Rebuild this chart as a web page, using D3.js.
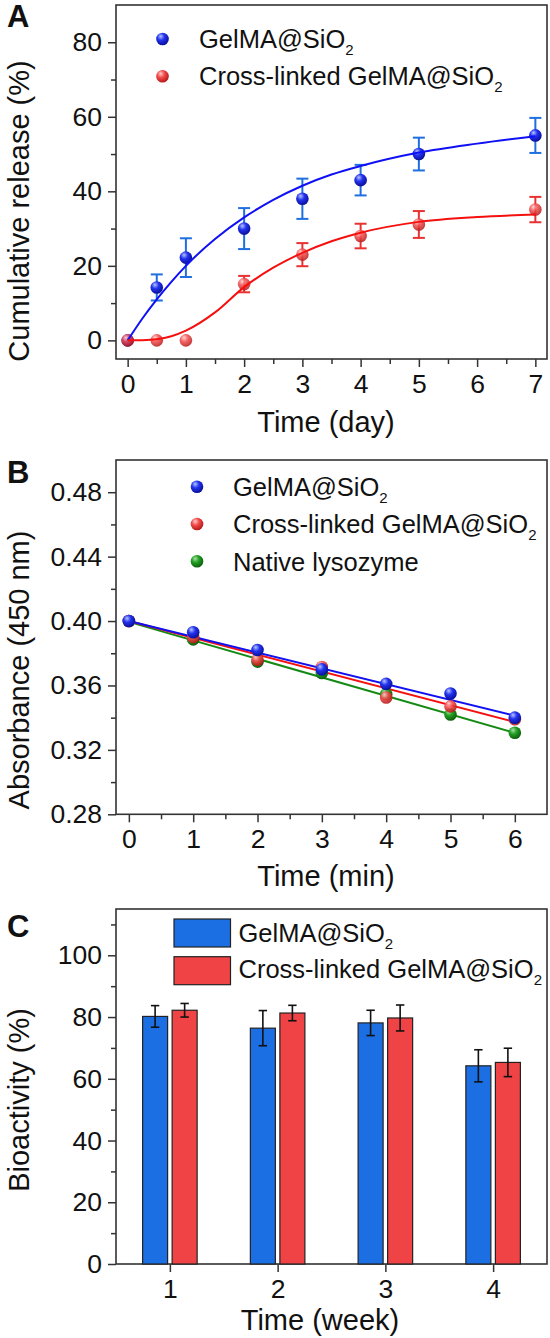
<!DOCTYPE html>
<html>
<head>
<meta charset="utf-8">
<script src="https://cdn.jsdelivr.net/npm/d3@7"></script>
<style>
body { margin: 0; background: #fff; }
text { font-family: "Liberation Sans", Arial, sans-serif; fill: #111; }
</style>
</head>
<body>
<svg id="fig" width="550" height="1338"></svg>
<script>
// panel A - cumulative release
var relDays = [0, 0.5, 1, 2, 3, 4, 5, 7];
var relGel = [0, 14.2, 22.2, 30, 38, 43, 50, 55];
var relGelErr = [0, 3.5, 5.2, 5.5, 5.4, 4.1, 4.4, 4.7];
var relCross = [0, 0, 0, 15.1, 23, 28, 31.1, 35.1];
var relCrossErr = [0, 0, 0, 2.2, 3.1, 3.3, 3.6, 3.4];
var fitDays = [0, 0.25, 0.5, 0.75, 1, 1.5, 2, 2.5, 3, 3.5, 4, 5, 6, 7];
var fitGel = [0, 5.8, 11, 15.7, 20, 27.2, 33, 37.7, 41.5, 44.5, 46.8, 50.4, 52.8, 54.8];
var fitCross = [0, 0.05, 0.3, 1.1, 2.6, 7.5, 14.3, 19.5, 23.5, 26.6, 28.9, 31.8, 33.1, 33.8];

// panel B - absorbance
var absMin = [0, 1, 2, 3, 4, 5, 6];
var absGel = [0.400, 0.393, 0.382, 0.370, 0.361, 0.355, 0.340];
var absCross = [0.400, 0.390, 0.376, 0.3715, 0.3525, 0.347, 0.339];
var absNative = [0.400, 0.3886, 0.3748, 0.3677, 0.3545, 0.342, 0.3306];
var fitMin = [0, 6];
var fitGelB = [0.400, 0.3412];
var fitCrossB = [0.400, 0.3373];
var fitNativeB = [0.3995, 0.3305];

// panel C - bioactivity
var weeks = [1, 2, 3, 4];
var bioGel = [80.2, 76.4, 78.1, 64.2];
var bioGelErr = [3.5, 5.7, 4.1, 5.2];
var bioCross = [82.2, 81.3, 79.7, 65.3];
var bioCrossErr = [2.2, 2.5, 4.2, 4.6];

var svg = d3.select('#fig');
svg.append('rect').attr('width', 550).attr('height', 1338).attr('fill', '#fff');

var defs = svg.append('defs');
function sphere(id, hi, base, dark) {
    var g = defs.append('radialGradient').attr('id', id)
        .attr('cx', '40%').attr('cy', '35%').attr('r', '65%')
        .attr('fx', '35%').attr('fy', '28%');
    g.append('stop').attr('offset', '0%').attr('stop-color', hi);
    g.append('stop').attr('offset', '45%').attr('stop-color', base);
    g.append('stop').attr('offset', '100%').attr('stop-color', dark);
}
sphere('sBlue', '#b8c4ff', '#2233ee', '#0b0f9a');
sphere('sRed', '#ffd0d0', '#f24c4c', '#b81818');
sphere('sGreen', '#a8e0a8', '#22a022', '#0c5e0c');

var FONT_TICK = 26.5, FONT_TITLE = 29, FONT_LEG = 25.5;
var left = 116, right = 547;

function frame(x, y, opt) {
    var g = svg.append('g');
    var yAxis = d3.axisLeft(y).tickValues(opt.yMajor).tickSize(8).tickPadding(6).tickFormat(opt.yFmt || d3.format('d'));
    var xAxis = d3.axisBottom(x).tickValues(opt.xMajor).tickSize(8).tickPadding(7).tickFormat(d3.format('d'));
    g.append('g').attr('transform', 'translate(' + left + ',0)').call(yAxis);
    g.append('g').attr('transform', 'translate(0,' + y.range()[0] + ')').call(xAxis);
    g.append('g').attr('transform', 'translate(' + left + ',0)')
        .call(d3.axisLeft(y).tickValues(opt.yMinor).tickSize(5).tickFormat(''));
    if (opt.xMinor) {
        g.append('g').attr('transform', 'translate(0,' + y.range()[0] + ')')
            .call(d3.axisBottom(x).tickValues(opt.xMinor).tickSize(5).tickFormat(''));
    }
    g.selectAll('.domain').remove();
    g.selectAll('.tick line').attr('stroke', '#333').attr('stroke-width', 1.5);
    g.selectAll('.tick text').attr('font-size', FONT_TICK).attr('fill', '#111')
        .attr('font-family', '"Liberation Sans", Arial, sans-serif');
    svg.append('rect')
        .attr('x', left).attr('y', y.range()[1])
        .attr('width', right - left).attr('height', y.range()[0] - y.range()[1])
        .attr('fill', 'none').attr('stroke', '#333').attr('stroke-width', 1.6);
    // titles
    svg.append('text').attr('x', opt.xTitleX).attr('y', opt.xTitleY)
        .attr('text-anchor', 'middle').attr('font-size', FONT_TITLE).text(opt.xTitle);
    svg.append('text').attr('transform', 'translate(29,' + opt.yTitleY + ') rotate(-90)')
        .attr('text-anchor', 'middle').attr('font-size', FONT_TITLE).text(opt.yTitle);
    svg.append('text').attr('x', 7).attr('y', opt.labelY)
        .attr('font-size', 31).attr('font-weight', 'bold').text(opt.label);
}

function legendText(x, y, txt, sub) {
    var t = svg.append('text').attr('x', x).attr('y', y).attr('font-size', FONT_LEG).text(txt);
    if (sub) t.append('tspan').attr('font-size', 15).attr('dy', 7).text(sub);
}

// ---------- Panel A ----------
var xA = d3.scaleLinear().domain([-0.2, 7.2]).range([left, right]);
var yA = d3.scaleLinear().domain([-5, 90]).range([359, 5]);
frame(xA, yA, {
    yMajor: [0, 20, 40, 60, 80], yMinor: [10, 30, 50, 70],
    xMajor: d3.range(0, 8), xMinor: [0.5, 1.5, 2.5, 3.5, 4.5, 5.5, 6.5],
    xTitle: 'Time (day)', xTitleX: 326, xTitleY: 432,
    yTitle: 'Cumulative release (%)', yTitleY: 211, label: 'A', labelY: 27
});

function errBars(xs, ys, es, x, y, color, cap, w) {
    var g = svg.append('g').attr('stroke', color).attr('stroke-width', w).attr('fill', 'none');
    xs.forEach(function(d, i) {
        if (!es[i]) return;
        var top = y(ys[i] + es[i]), bot = y(ys[i] - es[i]), cx = x(d);
        g.append('line').attr('x1', cx).attr('x2', cx).attr('y1', top).attr('y2', bot);
        g.append('line').attr('x1', cx - cap).attr('x2', cx + cap).attr('y1', top).attr('y2', top);
        g.append('line').attr('x1', cx - cap).attr('x2', cx + cap).attr('y1', bot).attr('y2', bot);
    });
}
function dots(xs, ys, x, y, grad, op) {
    svg.append('g').selectAll('circle').data(xs).enter().append('circle')
        .attr('cx', function(d) { return x(d); })
        .attr('cy', function(d, i) { return y(ys[i]); })
        .attr('r', 6.3).attr('fill', 'url(#' + grad + ')').attr('opacity', op || 1);
}
function fitLine(xs, ys, x, y, color) {
    var pts = xs.map(function(d, i) { return [x(d), y(ys[i])]; });
    svg.append('path').attr('d', d3.line().curve(d3.curveMonotoneX)(pts))
        .attr('fill', 'none').attr('stroke', color).attr('stroke-width', 2);
}

errBars(relDays, relGel, relGelErr, xA, yA, '#1f6fe0', 6, 2);
errBars(relDays, relCross, relCrossErr, xA, yA, '#e83232', 6, 2);
dots(relDays, relGel, xA, yA, 'sBlue');
dots(relDays, relCross, xA, yA, 'sRed', 0.85);
fitLine(fitDays, fitGel, xA, yA, '#1010f5');
fitLine(fitDays, fitCross, xA, yA, '#f51010');

svg.append('circle').attr('cx', 162.5).attr('cy', 39).attr('r', 6.3).attr('fill', 'url(#sBlue)');
svg.append('circle').attr('cx', 162.5).attr('cy', 76.3).attr('r', 6.3).attr('fill', 'url(#sRed)');
legendText(199, 48, 'GelMA@SiO', '2');
legendText(199, 85, 'Cross-linked GelMA@SiO', '2');

// ---------- Panel B ----------
var xB = d3.scaleLinear().domain([-0.2, 6.5]).range([left, right]);
var yB = d3.scaleLinear().domain([0.28, 0.50]).range([814.3, 460]);
frame(xB, yB, {
    yMajor: [0.28, 0.32, 0.36, 0.40, 0.44, 0.48], yMinor: [0.30, 0.34, 0.38, 0.42, 0.46],
    yFmt: d3.format('.2f'),
    xMajor: d3.range(0, 7), xMinor: [0.5, 1.5, 2.5, 3.5, 4.5, 5.5],
    xTitle: 'Time (min)', xTitleX: 326, xTitleY: 886,
    yTitle: 'Absorbance (450 nm)', yTitleY: 670, label: 'B', labelY: 483
});
fitLine(fitMin, fitNativeB, xB, yB, '#148a14');
fitLine(fitMin, fitCrossB, xB, yB, '#f51010');
fitLine(fitMin, fitGelB, xB, yB, '#1010f0');
dots(absMin, absNative, xB, yB, 'sGreen');
dots(absMin, absCross, xB, yB, 'sRed', 0.9);
dots(absMin, absGel, xB, yB, 'sBlue');

svg.append('circle').attr('cx', 197).attr('cy', 486.7).attr('r', 6.3).attr('fill', 'url(#sBlue)');
svg.append('circle').attr('cx', 197).attr('cy', 524).attr('r', 6.3).attr('fill', 'url(#sRed)');
svg.append('circle').attr('cx', 197).attr('cy', 561.3).attr('r', 6.3).attr('fill', 'url(#sGreen)');
legendText(233, 496, 'GelMA@SiO', '2');
legendText(233, 533.3, 'Cross-linked GelMA@SiO', '2');
legendText(233, 570.6, 'Native lysozyme');

// ---------- Panel C ----------
var xC = d3.scaleLinear().domain([0.5, 4.5]).range([left, right]);
var yC = d3.scaleLinear().domain([0, 115]).range([1264, 909]);
frame(xC, yC, {
    yMajor: [0, 20, 40, 60, 80, 100], yMinor: [10, 30, 50, 70, 90, 110],
    xMajor: weeks,
    xTitle: 'Time (week)', xTitleX: 320, xTitleY: 1330,
    yTitle: 'Bioactivity (%)', yTitleY: 1100, label: 'C', labelY: 937
});

var barW = 0.232, barOff = 0.137;
function bars(vals, off, color) {
    svg.append('g').selectAll('rect').data(weeks).enter().append('rect')
        .attr('x', function(d) { return xC(d + off - barW / 2); })
        .attr('width', xC(barW) - xC(0))
        .attr('y', function(d, i) { return yC(vals[i]); })
        .attr('height', function(d, i) { return yC(0) - yC(vals[i]); })
        .attr('fill', color).attr('stroke', '#222').attr('stroke-width', 1.2);
}
bars(bioGel, -barOff, '#1b6fe2');
bars(bioCross, barOff, '#f04345');
errBars(weeks.map(function(d) { return d - barOff; }), bioGel, bioGelErr, xC, yC, '#111', 4.2, 1.6);
errBars(weeks.map(function(d) { return d + barOff; }), bioCross, bioCrossErr, xC, yC, '#111', 4.2, 1.6);

svg.append('rect').attr('x', 174).attr('y', 919).attr('width', 56.5).attr('height', 28)
    .attr('fill', '#1b6fe2').attr('stroke', '#222').attr('stroke-width', 1.2);
svg.append('rect').attr('x', 174).attr('y', 956.7).attr('width', 56.5).attr('height', 28)
    .attr('fill', '#f04345').attr('stroke', '#222').attr('stroke-width', 1.2);
legendText(238.5, 941.5, 'GelMA@SiO', '2');
legendText(238.5, 978, 'Cross-linked GelMA@SiO', '2');
</script>
</body>
</html>
